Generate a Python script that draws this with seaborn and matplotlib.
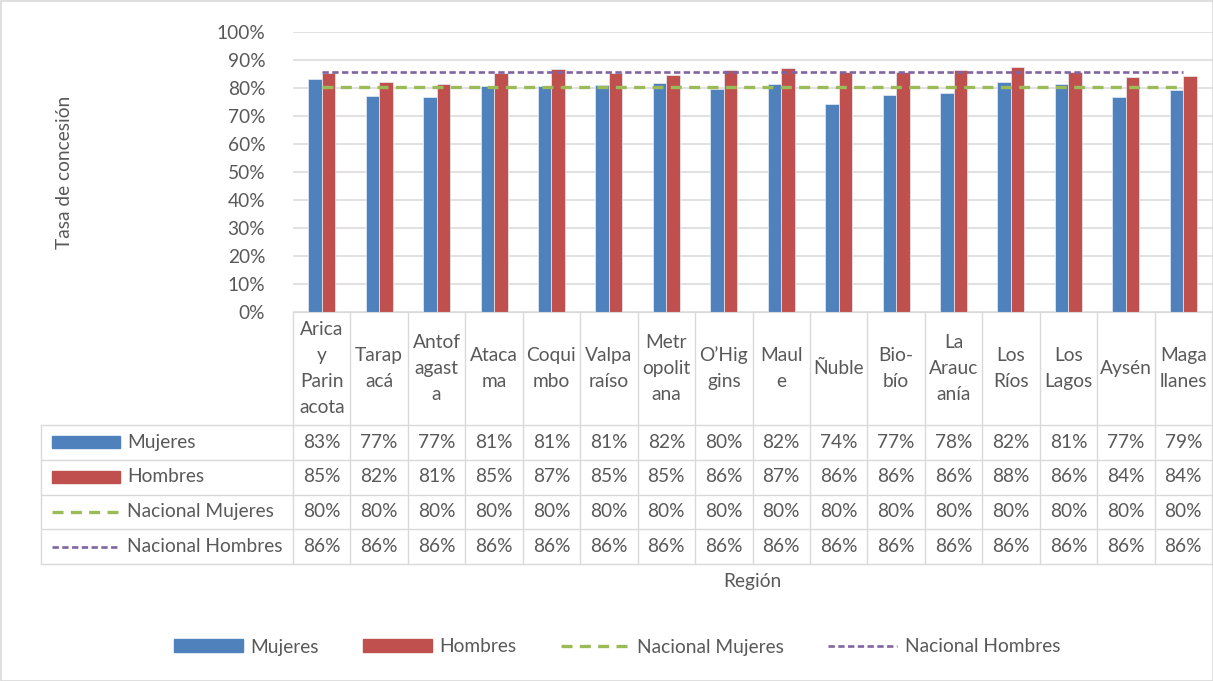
import numpy as np
import pandas as pd
import matplotlib
matplotlib.use("Agg")
import matplotlib.pyplot as plt
import matplotlib.transforms as mtransforms
from matplotlib.patches import Patch, Rectangle
from matplotlib.lines import Line2D
from matplotlib.ticker import PercentFormatter
import seaborn as sns

# ---------------- data ----------------
regiones = ["Arica y Parinacota", "Tarapacá", "Antofagasta", "Atacama", "Coquimbo",
            "Valparaíso", "Metropolitana", "O’Higgins", "Maule", "Ñuble", "Biobío",
            "La Araucanía", "Los Ríos", "Los Lagos", "Aysén", "Magallanes"]
etiquetas = ["Arica\ny\nParin\nacota", "Tarap\nacá", "Antof\nagast\na", "Ataca\nma",
             "Coqui\nmbo", "Valpa\nraíso", "Metr\nopolit\nana", "O’Hig\ngins", "Maul\ne",
             "Ñuble", "Bio-\nbío", "La\nArauc\nanía", "Los\nRíos", "Los\nLagos", "Aysén",
             "Maga\nllanes"]
mujeres = [0.831, 0.771, 0.768, 0.806, 0.808, 0.811, 0.819, 0.796, 0.816, 0.744,
           0.774, 0.781, 0.820, 0.814, 0.768, 0.793]
hombres = [0.852, 0.821, 0.814, 0.852, 0.868, 0.852, 0.846, 0.864, 0.873, 0.856,
           0.858, 0.864, 0.876, 0.858, 0.840, 0.843]
nacional_mujeres = [0.804, 0.804, 0.804, 0.804, 0.804, 0.804, 0.804, 0.804,
                    0.804, 0.804, 0.804, 0.804, 0.804, 0.804, 0.804, 0.804]
nacional_hombres = [0.857, 0.857, 0.857, 0.857, 0.857, 0.857, 0.857, 0.857,
                    0.857, 0.857, 0.857, 0.857, 0.857, 0.857, 0.857, 0.857]
yticks = [0.0, 0.1, 0.2, 0.3, 0.4, 0.5, 0.6, 0.7, 0.8, 0.9, 1.0]

# ---------------- style ----------------
sns.set_style("white")
plt.rcParams["font.family"] = ["Lato", "DejaVu Sans"]
TXT = "#595959"
GRID = "#D9D9D9"
C_M, C_H, C_NM, C_NH = "#4F81BD", "#C0504D", "#9BBB59", "#8064A2"
FS = 13.8

W, H = 1213, 681
def fy(py):
    return 1 - py / H

fig = plt.figure(figsize=(W / 100, H / 100), dpi=100)
ax = fig.add_axes([293 / W, fy(312), (1212 - 293) / W, 280 / H])

df = pd.DataFrame({
    "Región": regiones * 2,
    "Serie": ["Mujeres"] * len(regiones) + ["Hombres"] * len(regiones),
    "Tasa": mujeres + hombres,
})
sns.barplot(data=df, x="Región", y="Tasa", hue="Serie", order=regiones,
            hue_order=["Mujeres", "Hombres"], palette=[C_M, C_H], saturation=1,
            width=0.47, edgecolor="#E8EEF6", linewidth=0.5, legend=False, ax=ax)

xs = np.arange(len(regiones))
ax.plot(xs, nacional_mujeres, color=C_NM, lw=2.4, dashes=(3.3, 2.2), zorder=5)
ax.plot(xs, nacional_hombres, color=C_NH, lw=1.9, dashes=(2.4, 1.3), zorder=5)

ax.set_ylim(0, 1)
ax.set_xlim(-0.5, len(regiones) - 0.5)
ax.set_yticks(yticks)
ax.yaxis.set_major_formatter(PercentFormatter(1.0, decimals=0))
ax.yaxis.grid(True, color=GRID, lw=1.1)
ax.set_axisbelow(True)
for s in ["top", "right", "left"]:
    ax.spines[s].set_visible(False)
ax.spines["bottom"].set_color(GRID)
ax.tick_params(axis="both", length=0, labelsize=FS, labelcolor=TXT)
ax.tick_params(axis="y", pad=20)
ax.set_xticklabels([])
ax.set_xlabel("")
ax.set_ylabel("")

fig.text(65 / W, fy(172), "Tasa de concesión", rotation=90, ha="center", va="center",
         fontsize=FS, color=TXT)

# ---------------- data table ----------------
blend = mtransforms.blended_transform_factory(ax.transData, fig.transFigure)
row_edges = [425, 459.5, 494.5, 529, 564]
n = len(regiones)

for i in range(n + 1):
    fig.add_artist(Line2D([i - 0.5, i - 0.5], [fy(312), fy(564)], transform=blend,
                          color=GRID, lw=1))
fig.add_artist(Line2D([41 / W, 41 / W], [fy(425), fy(564)], transform=fig.transFigure,
                      color=GRID, lw=1))
for y in row_edges:
    fig.add_artist(Line2D([41 / W, 1212 / W], [fy(y), fy(y)], transform=fig.transFigure,
                          color=GRID, lw=1))

for i, lab in enumerate(etiquetas):
    fig.text(i, fy(368.5), lab, transform=blend, ha="center", va="center",
             multialignment="center", fontsize=FS, color=TXT, linespacing=1.65)

series = [("Mujeres", mujeres), ("Hombres", hombres),
          ("Nacional Mujeres", nacional_mujeres), ("Nacional Hombres", nacional_hombres)]
for r, (name, vals) in enumerate(series):
    yc = (row_edges[r] + row_edges[r + 1]) / 2
    for i, v in enumerate(vals):
        fig.text(i, fy(yc), f"{v:.0%}", transform=blend, ha="center", va="center",
                 fontsize=FS, color=TXT)
    fig.text(127 / W, fy(yc), name, ha="left", va="center", fontsize=FS, color=TXT)
    if r == 0 or r == 1:
        fig.add_artist(Rectangle((52 / W, fy(yc + 6)), 68 / W, 12 / H,
                                 transform=fig.transFigure,
                                 color=C_M if r == 0 else C_H))
    elif r == 2:
        fig.add_artist(Line2D([52 / W, 120 / W], [fy(yc), fy(yc)], transform=fig.transFigure,
                              color=C_NM, lw=2.4, dashes=(3.3, 2.2)))
    else:
        fig.add_artist(Line2D([52 / W, 120 / W], [fy(yc), fy(yc)], transform=fig.transFigure,
                              color=C_NH, lw=1.9, dashes=(2.4, 1.3)))

fig.text(752 / W, fy(582), "Región", ha="center", va="center", fontsize=FS, color=TXT)

# ---------------- legend ----------------
handles = [Patch(color=C_M), Patch(color=C_H),
           Line2D([], [], color=C_NM, lw=2.4, dashes=(3.3, 2.2)),
           Line2D([], [], color=C_NH, lw=1.9, dashes=(2.4, 1.3))]
labels = ["Mujeres", "Hombres", "Nacional Mujeres", "Nacional Hombres"]
leg = fig.legend(handles, labels, loc="center", bbox_to_anchor=(617 / W, fy(647)),
                 ncol=4, frameon=False, fontsize=FS, handlelength=3.6, handleheight=0.65,
                 columnspacing=2.3, handletextpad=0.4)
for t in leg.get_texts():
    t.set_color(TXT)

fig.add_artist(Rectangle((0.5 / W, 0.5 / H), 1 - 1 / W, 1 - 1 / H, transform=fig.transFigure,
                         fill=False, edgecolor=GRID, lw=1.2))

fig.savefig("out.png", dpi=100)
